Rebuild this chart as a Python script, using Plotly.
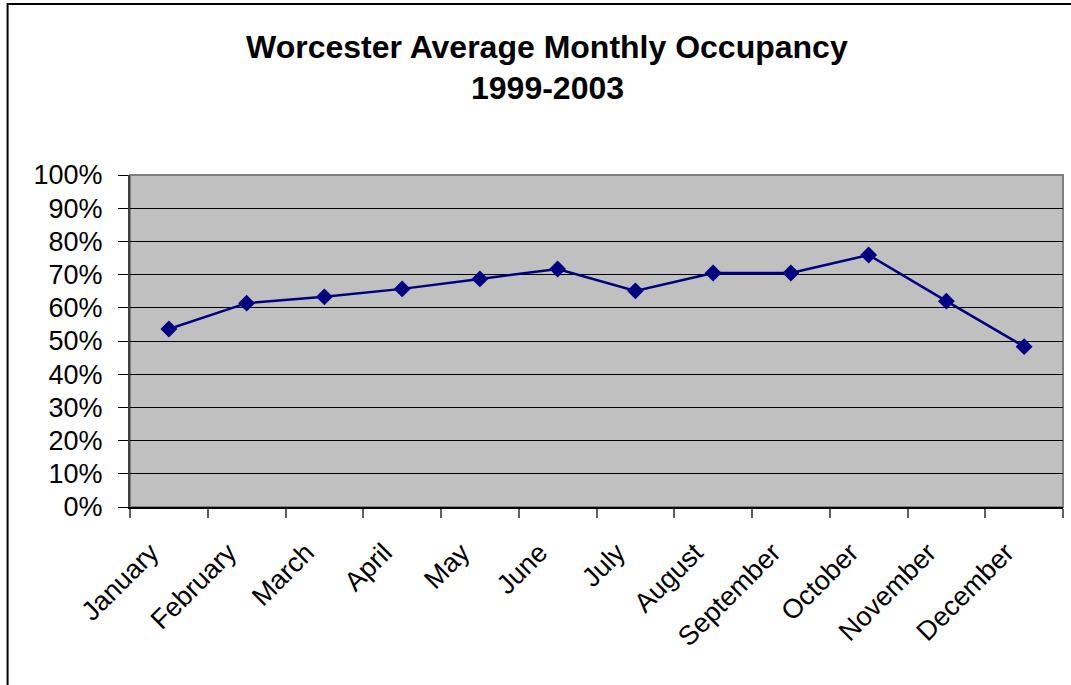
import plotly.graph_objects as go

months = ["January", "February", "March", "April", "May", "June", "July",
          "August", "September", "October", "November", "December"]
occupancy = [0.536, 0.614, 0.633, 0.657, 0.687, 0.717, 0.651,
             0.705, 0.705, 0.759, 0.620, 0.483]
y_ticks = [i / 10 for i in range(11)]

FONT = "Liberation Sans, Arial, sans-serif"

fig = go.Figure()
fig.add_trace(go.Scatter(
    x=months, y=occupancy, mode="lines+markers",
    line=dict(color="#000080", width=2.5),
    marker=dict(symbol="diamond", size=13, color="#000080"),
    showlegend=False, hoverinfo="skip",
))

fig.update_layout(
    width=1071, height=685,
    margin=dict(l=130, r=8, t=175, b=178),
    paper_bgcolor="white",
    plot_bgcolor="#C0C0C0",
    font=dict(family=FONT, size=27, color="black"),
    xaxis=dict(
        type="category", range=[-0.5, 11.5], tickson="boundaries",
        ticks="outside", ticklen=9, tickcolor="#606060", tickwidth=2,
        tickangle=-45, ticklabelshift=-18, ticklabelstandoff=17,
        showgrid=False, showline=True, linecolor="black",
        linewidth=2, tickfont=dict(size=27), fixedrange=True,
    ),
    yaxis=dict(
        range=[0, 1], tickvals=y_ticks, tickformat=".0%",
        ticks="outside", ticklen=10, tickcolor="black", tickwidth=1,
        ticklabelstandoff=10,
        showgrid=True, gridcolor="black", gridwidth=1,
        showline=True, linecolor="#404040", linewidth=2,
        zeroline=False, tickfont=dict(size=27), fixedrange=True,
    ),
    shapes=[
        dict(type="rect", xref="paper", yref="paper", x0=0, x1=1, y0=0, y1=1,
             line=dict(color="#808080", width=2), layer="below"),
        dict(type="rect", xref="paper", yref="paper",
             x0=-0.1312, x1=1.2, y0=-0.8, y1=1.515,
             line=dict(color="black", width=2)),
    ],
    annotations=[
        dict(text="<b>Worcester Average Monthly Occupancy</b>", xref="paper",
             yref="paper", x=0.447, y=1.3855, xanchor="center", yanchor="middle",
             showarrow=False, font=dict(size=32, family=FONT)),
        dict(text="<b>1999-2003</b>", xref="paper",
             yref="paper", x=0.447, y=1.262, xanchor="center", yanchor="middle",
             showarrow=False, font=dict(size=32, family=FONT)),
    ],
)

fig.write_html("out.html", config={"displayModeBar": False},
               post_script="document.body.style.margin='0';document.body.style.overflow='hidden';")
